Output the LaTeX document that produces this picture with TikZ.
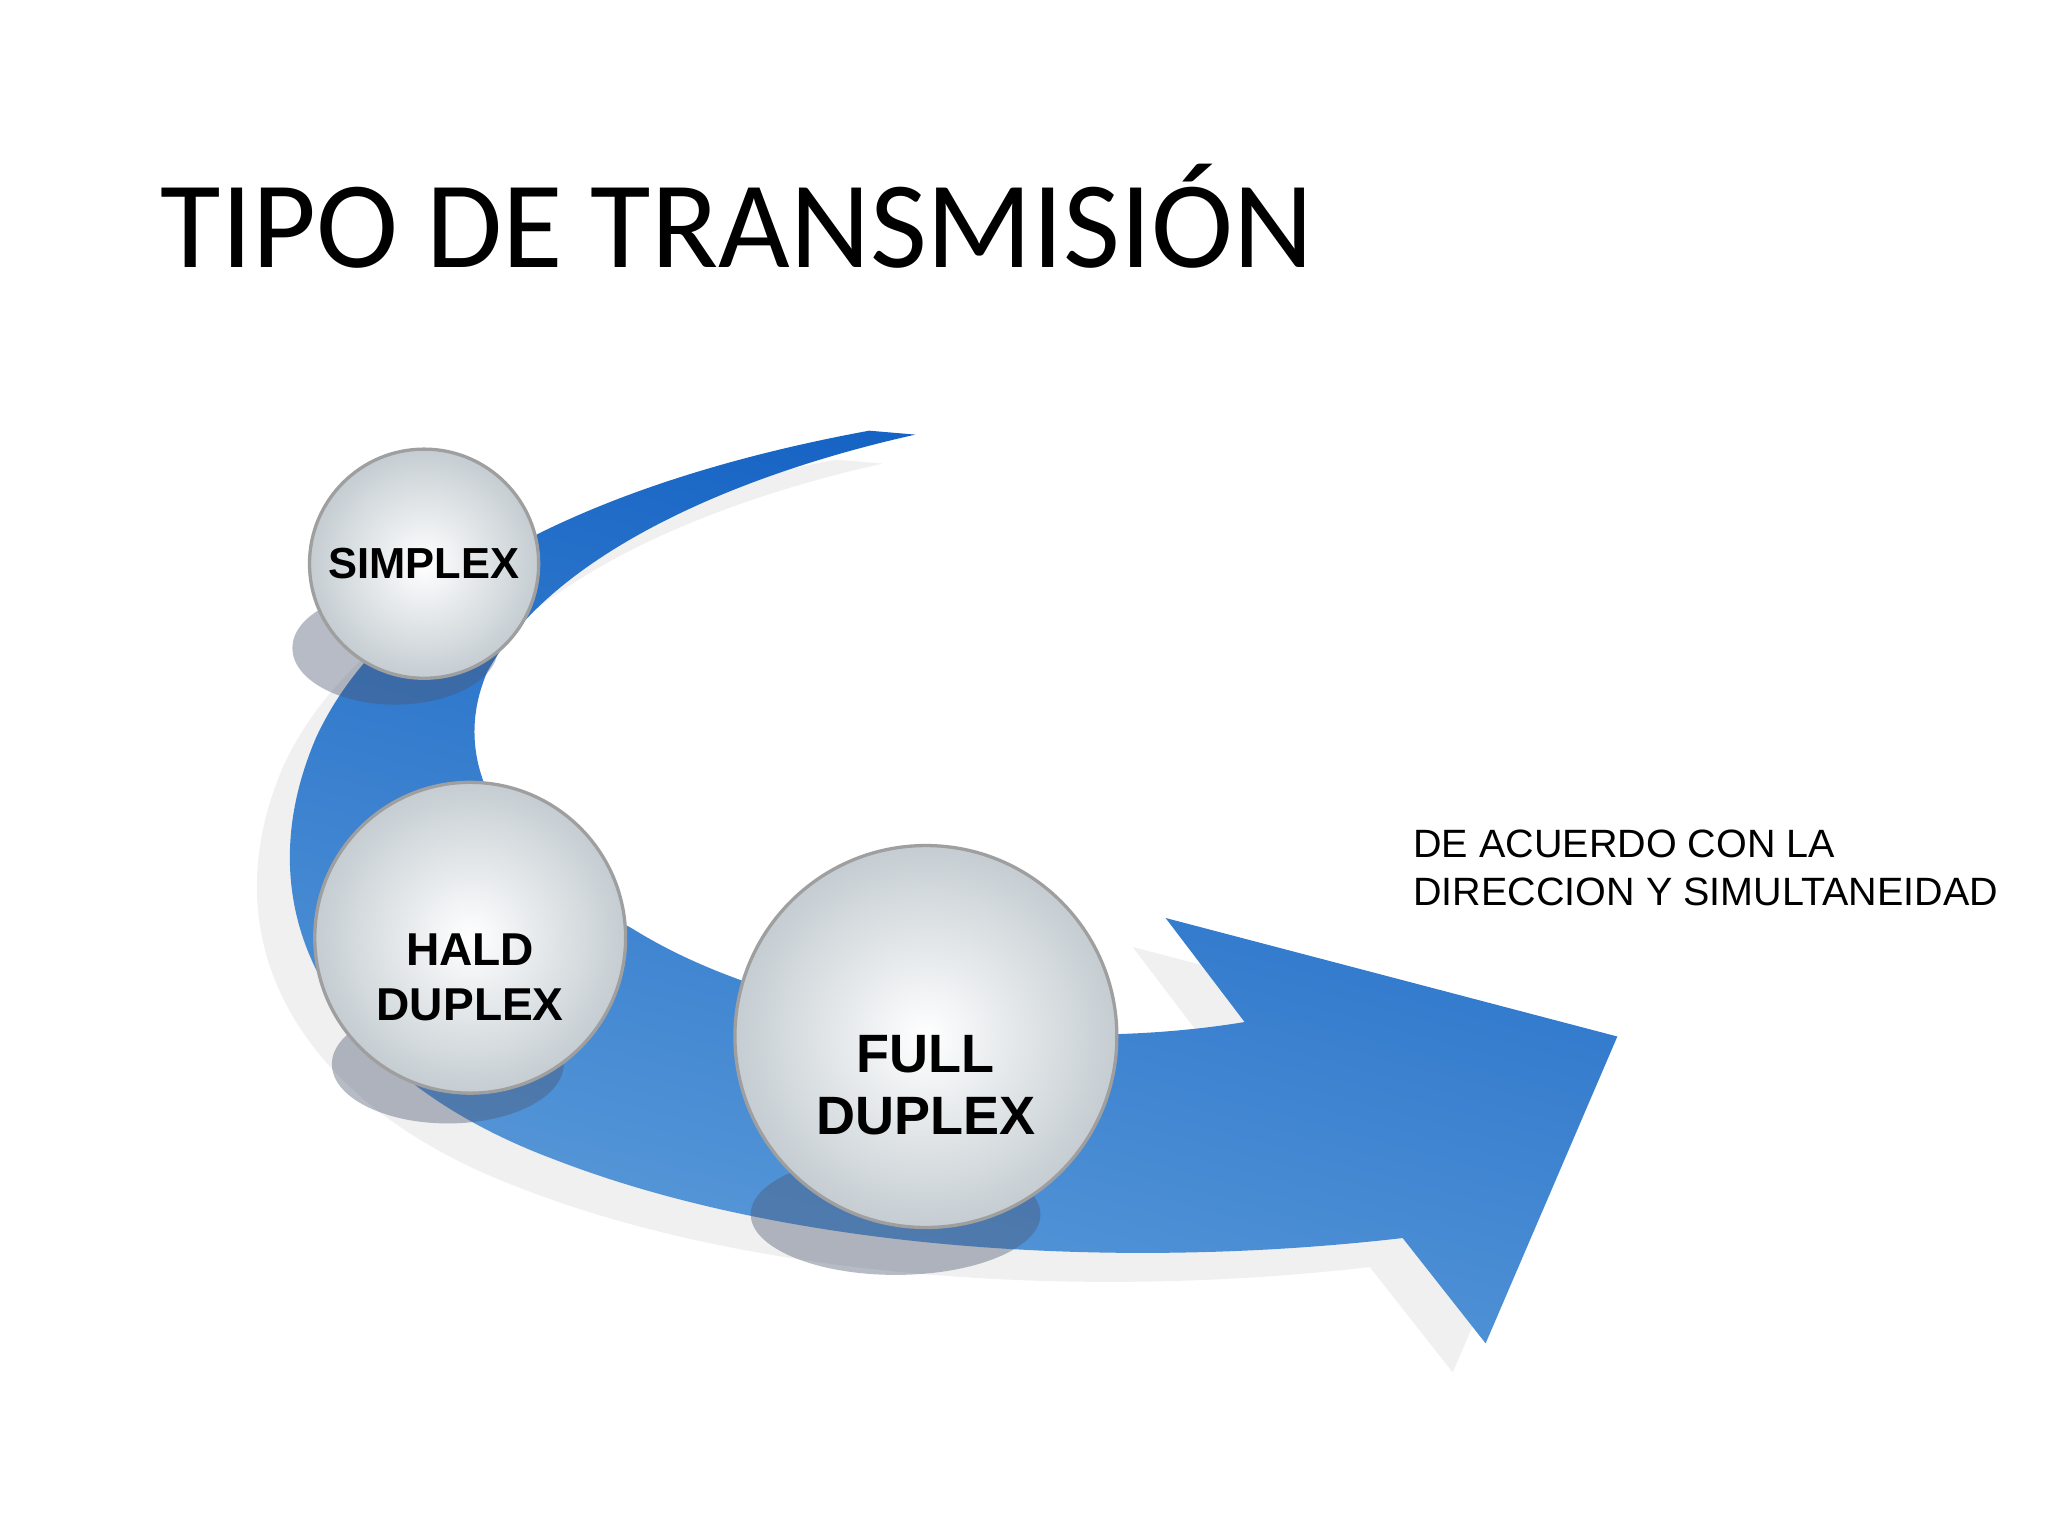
\documentclass[tikz,border=0pt]{standalone}
\usepackage{fontspec}
\setmainfont{Liberation Sans}
\newfontfamily\titlefont{Carlito}
\definecolor{adark}{HTML}{0F5EC2}
\definecolor{alight}{HTML}{5E9DDA}
\definecolor{ballout}{HTML}{C5CDD2}
\definecolor{shcol}{HTML}{4A5570}
\begin{document}
\begin{tikzpicture}[x=1pt,y=-1pt,
  ball/.style={circle,draw=gray!75,line width=2.5pt,inner color=white,outer color=ballout,align=center,font=\bfseries},
  ballshadow/.style={fill=shcol,opacity=0.4}]
\useasboundingbox (0,0) rectangle (1555,1166);
\fill[white] (0,0) rectangle (1555,1166);
\def\arrowpath{(660,327) .. controls (480,360) and (300,430) .. (240,560)
  .. controls (180,700) and (260,820) .. (420,880)
  .. controls (600,950) and (850,965) .. (1065,940)
  -- (1128,1020) -- (1228,787) -- (885,697) -- (945,776)
  .. controls (800,800) and (600,780) .. (480,705)
  .. controls (380,650) and (340,580) .. (370,510)
  .. controls (420,420) and (560,360) .. (695,330) -- cycle}
\fill[gray!12,shift={(-25,22)}] \arrowpath;
\shade[top color=adark,bottom color=alight,shading angle=-15] \arrowpath;
\fill[ballshadow] (300,492) ellipse (78 and 43);
\fill[ballshadow] (340,808) ellipse (88 and 45);
\fill[ballshadow] (680,922) ellipse (110 and 46);
\node[ball,minimum size=174pt,font=\bfseries\fontsize{33}{36}\selectfont] (s) at (322,428) {SIMPLEX};
\node[ball,minimum size=236pt] (h) at (357,712) {};
\node[align=center,font=\bfseries\fontsize{35}{42}\selectfont] (ht) at (357,742) {HALD\\DUPLEX};
\node[ball,minimum size=290pt] (f) at (703,787) {};
\node[align=center,font=\bfseries\fontsize{41}{47}\selectfont] (ft) at (703,824) {FULL\\DUPLEX};
\node[anchor=base west,inner sep=0,font=\titlefont\fontsize{94}{94}\selectfont] (t) at (122,203) {TIPO DE TRANSMISIÓN};
\node[anchor=north west,inner sep=0,align=left,font=\fontsize{30}{36}\selectfont] (d) at (1073,630) {DE ACUERDO CON LA\\DIRECCION Y SIMULTANEIDAD};
\end{tikzpicture}
\end{document}
